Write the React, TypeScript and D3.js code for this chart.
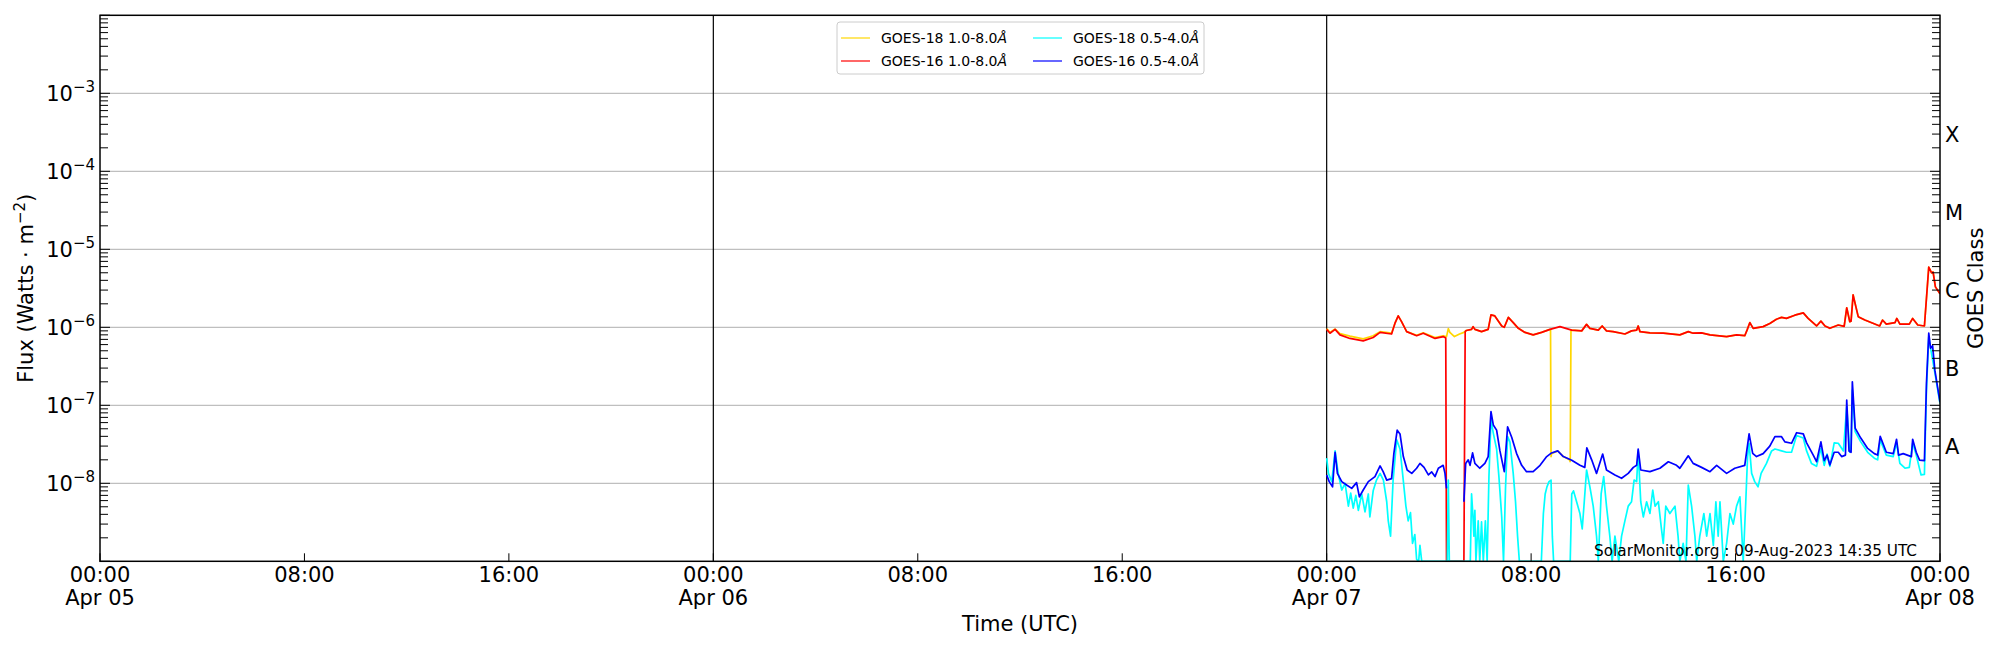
import React from "react";
import * as d3 from "d3";

// hours since Apr 07 00:00 UTC, flux W/m^2
const goes18Long: [number, number][] = [
  [0, 9.6e-7],[0.13, 8.6e-7],[0.33, 9.5e-7],[0.52, 8.3e-7],[0.91, 7.7e-7],[1.43, 7.1e-7],[1.82, 7.8e-7],[2.09, 8.8e-7],[2.54, 8.4e-7],[2.67, 1.12e-6],[2.8, 1.4e-6],[2.93, 1.18e-6],[3.13, 8.8e-7],[3.52, 7.9e-7],[3.78, 8.5e-7],[4.24, 7.4e-7],[4.56, 7.8e-7],[4.69, 7.6e-7],[4.76, 9.6e-7],[4.82, 8.6e-7],[5.0, 7.6e-7],[5.2, 8.2e-7],[5.37, 8.6e-7],[5.46, 9.1e-7],[5.67, 9.4e-7],[5.73, 1.02e-6],[5.8, 9.4e-7],[6.06, 8.8e-7],[6.32, 9.4e-7],[6.43, 1.44e-6],[6.58, 1.4e-6],[6.85, 1.04e-6],[6.95, 1.0e-6],[7.11, 1.34e-6],[7.3, 1.15e-6],[7.5, 9.7e-7],[7.76, 8.6e-7],[8.08, 8.0e-7],[8.41, 8.6e-7],[8.74, 9.4e-7],[8.76, 9.4e-7],[8.78, 2.2e-8],[8.8, 2.4e-8],[9.04, 2.6e-8],[9.26, 2.2e-8],[9.5, 2.0e-8],[9.53, 1.9e-8],[9.56, 9.2e-7],[9.59, 9.2e-7],[9.98, 9.0e-7],[10.17, 1.09e-6],[10.3, 9.7e-7],[10.63, 9.2e-7],[10.78, 1.04e-6],[10.95, 9.0e-7],[11.21, 8.8e-7],[11.67, 8.2e-7],[11.93, 9.0e-7],[12.13, 9.2e-7],[12.19, 1.04e-6],[12.26, 8.8e-7],[12.65, 8.5e-7],[13.17, 8.4e-7],[13.82, 8.0e-7],[14.15, 8.8e-7],[14.34, 8.4e-7],[14.67, 8.5e-7],[15.0, 8.0e-7],[15.65, 7.6e-7],[16.04, 8.0e-7],[16.36, 7.8e-7],[16.45, 9.2e-7],[16.56, 1.15e-6],[16.69, 9.7e-7],[17.08, 1.02e-6],[17.34, 1.12e-6],[17.6, 1.27e-6],[17.8, 1.34e-6],[17.99, 1.3e-6],[18.32, 1.43e-6],[18.65, 1.53e-6],[18.84, 1.3e-6],[19.17, 1.04e-6],[19.34, 1.2e-6],[19.5, 1.04e-6],[19.69, 9.7e-7],[20.02, 1.07e-6],[20.25, 1.03e-6],[20.35, 1.78e-6],[20.47, 1.18e-6],[20.52, 1.2e-6],[20.6, 2.6e-6],[20.8, 1.37e-6],[21.06, 1.24e-6],[21.64, 1.04e-6],[21.75, 1.24e-6],[21.9, 1.1e-6],[22.24, 1.15e-6],[22.31, 1.3e-6],[22.43, 1.1e-6],[22.8, 1.1e-6],[22.93, 1.3e-6],[23.13, 1.07e-6],[23.39, 1.04e-6],[23.56, 5.9e-6],[23.67, 5.0e-6],[23.73, 5.1e-6],[23.82, 3.3e-6],[24.0, 2.7e-6],
];

const goes16Long: [number, number][] = [
  [0, 9.4e-7],[0.13, 8.4e-7],[0.33, 9.4e-7],[0.52, 8.0e-7],[0.91, 7.2e-7],[1.43, 6.7e-7],[1.82, 7.4e-7],[2.09, 8.6e-7],[2.54, 8.2e-7],[2.67, 1.12e-6],[2.8, 1.4e-6],[2.93, 1.18e-6],[3.13, 8.8e-7],[3.52, 7.8e-7],[3.78, 8.4e-7],[4.24, 7.2e-7],[4.56, 7.6e-7],[4.66, 7.3e-7],[4.69, 1e-9],[5.37, 1e-9],[5.42, 8.8e-7],[5.46, 9.1e-7],[5.67, 9.4e-7],[5.73, 1.02e-6],[5.8, 9.4e-7],[6.06, 8.8e-7],[6.32, 9.4e-7],[6.43, 1.44e-6],[6.58, 1.4e-6],[6.85, 1.04e-6],[6.95, 1.0e-6],[7.11, 1.34e-6],[7.3, 1.15e-6],[7.5, 9.7e-7],[7.76, 8.6e-7],[8.08, 8.0e-7],[8.41, 8.6e-7],[8.74, 9.4e-7],[9.13, 1.02e-6],[9.59, 9.2e-7],[9.98, 9.0e-7],[10.17, 1.09e-6],[10.3, 9.7e-7],[10.63, 9.2e-7],[10.78, 1.04e-6],[10.95, 9.0e-7],[11.21, 8.8e-7],[11.67, 8.2e-7],[11.93, 9.0e-7],[12.13, 9.2e-7],[12.19, 1.04e-6],[12.26, 8.8e-7],[12.65, 8.5e-7],[13.17, 8.4e-7],[13.82, 8.0e-7],[14.15, 8.8e-7],[14.34, 8.4e-7],[14.67, 8.5e-7],[15.0, 8.0e-7],[15.65, 7.6e-7],[16.04, 8.0e-7],[16.36, 7.8e-7],[16.45, 9.2e-7],[16.56, 1.15e-6],[16.69, 9.7e-7],[17.08, 1.02e-6],[17.34, 1.12e-6],[17.6, 1.27e-6],[17.8, 1.34e-6],[17.99, 1.3e-6],[18.32, 1.43e-6],[18.65, 1.53e-6],[18.84, 1.3e-6],[19.17, 1.04e-6],[19.34, 1.2e-6],[19.5, 1.04e-6],[19.69, 9.7e-7],[20.02, 1.07e-6],[20.25, 1.03e-6],[20.35, 1.78e-6],[20.47, 1.18e-6],[20.52, 1.2e-6],[20.6, 2.6e-6],[20.8, 1.37e-6],[21.06, 1.24e-6],[21.64, 1.04e-6],[21.75, 1.24e-6],[21.9, 1.1e-6],[22.24, 1.15e-6],[22.31, 1.3e-6],[22.43, 1.1e-6],[22.8, 1.1e-6],[22.93, 1.3e-6],[23.13, 1.07e-6],[23.39, 1.04e-6],[23.56, 5.9e-6],[23.67, 5.0e-6],[23.73, 5.1e-6],[23.82, 3.3e-6],[24.0, 2.7e-6],
];

const goes18Short: [number, number][] = [
  [0, 2.1e-8],[0.07, 1.34e-8],[0.2, 1.05e-8],[0.33, 2.6e-8],[0.45, 1.34e-8],[0.59, 8.2e-9],[0.72, 1.0e-8],[0.85, 5.1e-9],[0.94, 7.5e-9],[1.04, 4.8e-9],[1.14, 7e-9],[1.24, 4.5e-9],[1.37, 7.3e-9],[1.5, 4.3e-9],[1.63, 7.3e-9],[1.69, 3.7e-9],[1.82, 8e-9],[1.95, 1.1e-8],[2.09, 1.34e-8],[2.22, 1.1e-8],[2.35, 5.8e-9],[2.41, 3.3e-9],[2.5, 2.1e-9],[2.6, 1.1e-8],[2.74, 3.6e-8],[2.87, 2.75e-8],[2.97, 1.34e-8],[3.1, 5.1e-9],[3.19, 3.3e-9],[3.28, 4.2e-9],[3.36, 1.7e-9],[3.45, 2.2e-9],[3.52, 1.06e-9],[3.6, 1e-9],[3.65, 1.6e-9],[3.72, 1e-9],[4.72, 1e-9],[4.76, 1.1e-8],[4.8, 1e-9],[5.62, 1e-9],[5.67, 7.3e-9],[5.72, 4e-9],[5.76, 2.1e-9],[5.8, 4.5e-9],[5.84, 1e-9],[5.93, 3.3e-9],[5.99, 1e-9],[6.06, 3.2e-9],[6.13, 1e-9],[6.21, 3.3e-9],[6.28, 1e-9],[6.35, 1.22e-8],[6.43, 6.5e-8],[6.52, 4.4e-8],[6.65, 2.75e-8],[6.74, 1.22e-8],[6.85, 3.7e-9],[6.92, 1e-9],[7.0, 9e-9],[7.08, 3.96e-8],[7.17, 3.4e-8],[7.3, 1.34e-8],[7.39, 5.8e-9],[7.47, 2.1e-9],[7.54, 1e-9],[8.4, 1e-9],[8.48, 4.1e-9],[8.55, 7.3e-9],[8.62, 9e-9],[8.7, 1.05e-8],[8.78, 1.1e-8],[8.83, 2.1e-9],[8.88, 1e-9],[9.53, 1e-9],[9.59, 7.3e-9],[9.66, 8e-9],[9.78, 5.8e-9],[9.91, 4.1e-9],[10.0, 2.6e-9],[10.08, 5.8e-9],[10.17, 1.48e-8],[10.3, 9e-9],[10.43, 5.1e-9],[10.56, 2.1e-9],[10.63, 1e-9],[10.74, 7.3e-9],[10.84, 1.22e-8],[10.95, 5.1e-9],[11.08, 2.1e-9],[11.17, 1e-9],[11.28, 2.1e-9],[11.43, 1e-9],[11.54, 2.1e-9],[11.67, 3.3e-9],[11.8, 5.1e-9],[11.93, 5.8e-9],[12.03, 1.1e-8],[12.13, 1.05e-8],[12.19, 2.6e-8],[12.29, 5.8e-9],[12.39, 3.7e-9],[12.52, 5.8e-9],[12.65, 4.1e-9],[12.76, 8.2e-9],[12.85, 5.1e-9],[12.98, 5.8e-9],[13.1, 2.6e-9],[13.17, 1.7e-9],[13.27, 5.1e-9],[13.43, 4.1e-9],[13.63, 5.1e-9],[13.75, 2.1e-9],[13.82, 1e-9],[13.95, 1.7e-9],[14.06, 1e-9],[14.15, 9.5e-9],[14.28, 5.1e-9],[14.41, 2.1e-9],[14.48, 1e-9],[14.6, 2.1e-9],[14.76, 4.1e-9],[14.87, 2.1e-9],[15.0, 4.1e-9],[15.13, 1.6e-9],[15.23, 5.8e-9],[15.32, 2.1e-9],[15.39, 5.8e-9],[15.52, 1e-9],[15.65, 1.7e-9],[15.78, 4.1e-9],[15.91, 3e-9],[16.04, 5.1e-9],[16.17, 6.7e-9],[16.3, 1e-9],[16.4, 5.8e-9],[16.47, 2.2e-8],[16.53, 3.26e-8],[16.63, 1.34e-8],[16.75, 1.05e-8],[16.88, 9e-9],[17.0, 1.34e-8],[17.21, 1.8e-8],[17.41, 2.6e-8],[17.54, 2.75e-8],[17.8, 2.6e-8],[17.99, 2.5e-8],[18.19, 2.5e-8],[18.39, 4.1e-8],[18.65, 3.8e-8],[18.78, 2.6e-8],[18.97, 1.8e-8],[19.17, 1.65e-8],[19.34, 2.8e-8],[19.47, 1.7e-8],[19.58, 2.37e-8],[19.69, 1.65e-8],[19.86, 3.3e-8],[20.02, 3.26e-8],[20.22, 2.6e-8],[20.35, 9.6e-8],[20.47, 2.5e-8],[20.52, 2.6e-8],[20.57, 1.57e-7],[20.68, 4.6e-8],[20.9, 3.4e-8],[21.17, 2.5e-8],[21.43, 2.1e-8],[21.56, 2.0e-8],[21.66, 3.6e-8],[21.9, 2.3e-8],[22.17, 2.2e-8],[22.3, 3.3e-8],[22.43, 1.8e-8],[22.63, 1.56e-8],[22.8, 1.6e-8],[22.93, 3.26e-8],[23.07, 2.3e-8],[23.26, 1.28e-8],[23.39, 1.3e-8],[23.47, 1.57e-7],[23.56, 7.5e-7],[23.65, 5.0e-7],[23.8, 2.6e-7],[24.0, 1.05e-7],
];

// null = data gap
const goes16Short: ([number, number] | null)[] = [
  [0, 1.28e-8],[0.1, 1.05e-8],[0.23, 9.0e-9],[0.33, 2.5e-8],[0.42, 1.34e-8],[0.59, 1.05e-8],[0.78, 9.5e-9],[0.98, 8.6e-9],[1.17, 1.02e-8],[1.28, 6.7e-9],[1.43, 8.2e-9],[1.63, 1.05e-8],[1.89, 1.22e-8],[2.09, 1.67e-8],[2.21, 1.41e-8],[2.35, 1.1e-8],[2.54, 1.15e-8],[2.63, 2.42e-8],[2.76, 4.8e-8],[2.87, 4.3e-8],[3.0, 2.2e-8],[3.15, 1.48e-8],[3.33, 1.34e-8],[3.52, 1.56e-8],[3.65, 1.8e-8],[3.81, 1.6e-8],[3.98, 1.28e-8],[4.11, 1.4e-8],[4.24, 1.22e-8],[4.37, 1.56e-8],[4.56, 1.7e-8],[4.63, 1.34e-8],[4.69, 8.6e-9],
  null,
  [5.37, 5.8e-9],[5.44, 1.8e-8],[5.54, 2.0e-8],[5.61, 1.7e-8],[5.71, 2.45e-8],[5.8, 1.8e-8],[5.99, 1.56e-8],[6.19, 1.8e-8],[6.32, 2.2e-8],[6.43, 8.3e-8],[6.52, 5.6e-8],[6.65, 4.8e-8],[6.78, 2.6e-8],[6.95, 1.41e-8],[7.08, 5.3e-8],[7.24, 3.9e-8],[7.43, 2.42e-8],[7.63, 1.7e-8],[7.82, 1.41e-8],[8.08, 1.41e-8],[8.35, 1.7e-8],[8.61, 2.2e-8],[8.8, 2.45e-8],[9.04, 2.6e-8],[9.26, 2.2e-8],[9.59, 1.98e-8],[9.91, 1.7e-8],[10.1, 1.6e-8],[10.18, 2.85e-8],[10.37, 2.0e-8],[10.56, 1.34e-8],[10.8, 2.37e-8],[10.95, 1.48e-8],[11.28, 1.28e-8],[11.54, 1.16e-8],[11.8, 1.34e-8],[12.0, 1.6e-8],[12.13, 1.7e-8],[12.19, 2.75e-8],[12.29, 1.48e-8],[12.65, 1.41e-8],[13.04, 1.56e-8],[13.37, 1.89e-8],[13.69, 1.7e-8],[13.82, 1.56e-8],[14.15, 2.25e-8],[14.34, 1.8e-8],[14.67, 1.6e-8],[15.0, 1.41e-8],[15.26, 1.7e-8],[15.65, 1.34e-8],[15.97, 1.56e-8],[16.36, 1.7e-8],[16.53, 4.3e-8],[16.67, 2.42e-8],[16.82, 2.2e-8],[17.08, 2.4e-8],[17.34, 3.0e-8],[17.54, 3.96e-8],[17.8, 3.96e-8],[17.93, 3.4e-8],[18.19, 3.26e-8],[18.39, 4.45e-8],[18.65, 4.3e-8],[18.78, 3.3e-8],[19.04, 2.3e-8],[19.17, 1.89e-8],[19.34, 3.4e-8],[19.47, 1.95e-8],[19.58, 2.3e-8],[19.69, 1.72e-8],[19.86, 2.5e-8],[20.02, 2.5e-8],[20.15, 2.2e-8],[20.3, 2.3e-8],[20.35, 1.17e-7],[20.44, 2.6e-8],[20.52, 2.5e-8],[20.57, 2.0e-7],[20.68, 5.1e-8],[20.9, 3.8e-8],[21.17, 2.8e-8],[21.43, 2.4e-8],[21.56, 2.3e-8],[21.66, 4.0e-8],[21.9, 2.5e-8],[22.17, 2.4e-8],[22.3, 3.67e-8],[22.38, 2.3e-8],[22.56, 2.4e-8],[22.88, 2.2e-8],[22.93, 3.67e-8],[23.07, 2.5e-8],[23.2, 1.98e-8],[23.39, 1.95e-8],[23.47, 1.9e-7],[23.56, 8.4e-7],[23.63, 5.4e-7],[23.71, 5.8e-7],[23.8, 2.8e-7],[24.0, 1.1e-7],
];

const DATA_OFFSET_H = 48; // data starts Apr 07 00:00; axis starts Apr 05 00:00
const xTickHours = [0, 8, 16, 24, 32, 40, 48, 56, 64, 72];
const xTickTimes = ["00:00", "08:00", "16:00", "00:00", "08:00", "16:00", "00:00", "08:00", "16:00", "00:00"];
const xTickDates = ["Apr 05", "", "", "Apr 06", "", "", "Apr 07", "", "", "Apr 08"];
const dayLines = [24, 48];
const yDecades = [-8, -7, -6, -5, -4, -3];
const goesClasses = ["A", "B", "C", "M", "X"];
const goesClassExp = [-8, -7, -6, -5, -4];

const legendItems = [
  { label: "GOES-18 1.0-8.0", color: "#ffd700", col: 0, row: 0 },
  { label: "GOES-16 1.0-8.0", color: "#ff0000", col: 0, row: 1 },
  { label: "GOES-18 0.5-4.0", color: "#00ffff", col: 1, row: 0 },
  { label: "GOES-16 0.5-4.0", color: "#0000ff", col: 1, row: 1 },
];

const W = 2000, H = 650;
const L = 100, R = 1940, T = 15.3, B = 561.3;
const FONT = "DejaVu Sans, sans-serif";
const FS = 21;

export default function App() {
  const x = d3.scaleLinear().domain([0, 72]).range([L, R]);
  const y = d3.scaleLog().domain([1e-9, 1e-2]).range([B, T]);

  const line = d3
    .line<[number, number] | null>()
    .defined((d) => d !== null)
    .x((d) => x((d as [number, number])[0] + DATA_OFFSET_H))
    .y((d) => y((d as [number, number])[1]));

  const minorTicks: number[] = [];
  for (let e = -9; e < -2; e++) for (let k = 2; k <= 9; k++) minorTicks.push(k * Math.pow(10, e));
  const majorTicks: number[] = [];
  for (let e = -9; e <= -2; e++) majorTicks.push(Math.pow(10, e));

  const series = [
    { data: goes18Long, color: "#ffd700" },
    { data: goes16Long, color: "#ff0000" },
    { data: goes18Short, color: "#00ffff" },
    { data: goes16Short, color: "#0000ff" },
  ];

  const legX = 837, legY = 22, legW = 367, legH = 52;
  const colX = [841, 1033];
  const rowY = [38, 61];

  return (
    <svg width={W} height={H} style={{ position: "absolute", left: 0, top: 0, background: "#fff" }} fontFamily={FONT}>
      <rect x={0} y={0} width={W} height={H} fill="#fff" />
      <defs>
        <clipPath id="plotclip">
          <rect x={L} y={T} width={R - L} height={B - T} />
        </clipPath>
      </defs>
      {yDecades.map((e) => (
        <line key={"g" + e} x1={L} x2={R} y1={y(Math.pow(10, e))} y2={y(Math.pow(10, e))} stroke="#b0b0b0" strokeWidth={1} />
      ))}
      {dayLines.map((h) => (
        <line key={"d" + h} x1={x(h)} x2={x(h)} y1={T} y2={B} stroke="#000" strokeWidth={1.2} />
      ))}
      <g clipPath="url(#plotclip)">
        {series.map((s, i) => (
          <path key={i} d={line(s.data as any) || ""} fill="none" stroke={s.color} strokeWidth={1.7} strokeLinejoin="round" />
        ))}
      </g>
      {minorTicks.map((v, i) => (
        <g key={"mt" + i}>
          <line x1={L} x2={L + 8} y1={y(v)} y2={y(v)} stroke="#000" strokeWidth={1} />
          <line x1={R} x2={R - 8} y1={y(v)} y2={y(v)} stroke="#000" strokeWidth={1} />
        </g>
      ))}
      {majorTicks.map((v, i) => (
        <g key={"Mt" + i}>
          <line x1={L} x2={L + 10} y1={y(v)} y2={y(v)} stroke="#000" strokeWidth={1} />
          <line x1={R} x2={R - 10} y1={y(v)} y2={y(v)} stroke="#000" strokeWidth={1} />
        </g>
      ))}
      {xTickHours.map((h) => (
        <line key={"xt" + h} x1={x(h)} x2={x(h)} y1={B} y2={B - 8} stroke="#000" strokeWidth={1} />
      ))}
      <rect x={L} y={T} width={R - L} height={B - T} fill="none" stroke="#000" strokeWidth={1.5} />
      {yDecades.map((e) => (
        <text key={"yl" + e} x={95} y={y(Math.pow(10, e)) + 8} textAnchor="end" fontSize={FS} fill="#000">
          10
          <tspan dy={-9} fontSize={15}>{"\u2212" + Math.abs(e)}</tspan>
        </text>
      ))}
      {xTickHours.map((h, i) => (
        <g key={"xl" + h}>
          <text x={x(h)} y={582} textAnchor="middle" fontSize={FS} fill="#000">{xTickTimes[i]}</text>
          {xTickDates[i] && (
            <text x={x(h)} y={605} textAnchor="middle" fontSize={FS} fill="#000">{xTickDates[i]}</text>
          )}
        </g>
      ))}
      {goesClasses.map((c, i) => (
        <text key={c} x={1945} y={y(Math.pow(10, goesClassExp[i] + 0.5)) + 10} fontSize={FS} fill="#000">{c}</text>
      ))}
      <text x={1020} y={631} textAnchor="middle" fontSize={FS} fill="#000">Time (UTC)</text>
      <text transform={`translate(33,${(T + B) / 2}) rotate(-90)`} textAnchor="middle" fontSize={FS} fill="#000">
        Flux (Watts · m<tspan dy={-8} fontSize={15}>−2</tspan><tspan dy={8}>)</tspan>
      </text>
      <text transform={`translate(1983,${(T + B) / 2}) rotate(-90)`} textAnchor="middle" fontSize={FS} fill="#000">GOES Class</text>
      <text x={1917} y={556} textAnchor="end" fontSize={15} fill="#000" textLength={323} lengthAdjust="spacingAndGlyphs">
        SolarMonitor.org : 09-Aug-2023 14:35 UTC
      </text>
      <rect x={legX} y={legY} width={legW} height={legH} rx={3} fill="#fff" fillOpacity={0.8} stroke="#cccccc" strokeWidth={1} />
      {legendItems.map((it) => (
        <g key={it.label}>
          <line x1={colX[it.col]} x2={colX[it.col] + 29} y1={rowY[it.row]} y2={rowY[it.row]} stroke={it.color} strokeWidth={1.2} />
          <text x={colX[it.col] + 40} y={rowY[it.row] + 5} fontSize={14} fill="#000">
            {it.label}
            <tspan fontStyle="italic">Å</tspan>
          </text>
        </g>
      ))}
    </svg>
  );
}
